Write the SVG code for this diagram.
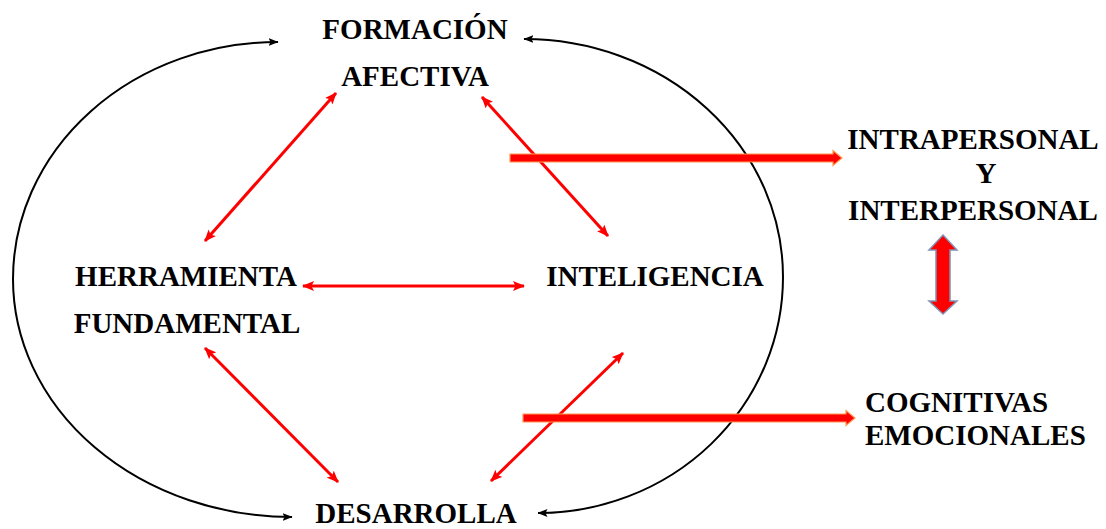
<svg xmlns="http://www.w3.org/2000/svg" width="1106" height="529" viewBox="0 0 1106 529">
<defs>
<style>
.t{font-family:"Liberation Serif","Times New Roman",serif;font-weight:bold;font-size:29px;fill:#000}
.c{text-anchor:middle}
.red{stroke:#ff0000;stroke-width:3;fill:none;marker-start:url(#rh);marker-end:url(#rh)}
.blk{stroke:#000;stroke-width:2;fill:none;marker-start:url(#bh);marker-end:url(#bh)}
.thick{fill:#ff0000;stroke:#ff9a50;stroke-width:1.2}
.block{fill:#ff0000;stroke:#7f93b5;stroke-width:1.5}
</style>
<marker id="rh" markerUnits="userSpaceOnUse" viewBox="0 0 12 10" refX="11" refY="5" markerWidth="12" markerHeight="10" orient="auto-start-reverse">
<path d="M0,0 L12,5 L0,10 L2.5,5 Z" fill="#ff0000"/>
</marker>
<marker id="bh" markerUnits="userSpaceOnUse" viewBox="0 0 10 8" refX="9.5" refY="4" markerWidth="10" markerHeight="8" orient="auto-start-reverse">
<path d="M0,0 L10,4 L0,8 L2,4 Z" fill="#000"/>
</marker>
</defs>
<rect width="1106" height="529" fill="#fff"/>
<g id="connectors">
<path class="blk" d="M 278 42 A 265 237 0 0 0 13 279 A 279 238 0 0 0 292 517"/>
<path class="blk" d="M 538 513 A 245 236 0 0 0 783 277 A 259 238 0 0 0 524 39"/>
<line class="red" x1="336" y1="93" x2="205" y2="241"/>
<line class="red" x1="482" y1="97" x2="608" y2="236"/>
<line class="red" x1="303" y1="286" x2="524" y2="286"/>
<line class="red" x1="205" y1="348" x2="338" y2="482"/>
<line class="red" x1="623" y1="353" x2="491" y2="481"/>
<path class="thick" d="M510,154 L833,154 L833,150.5 L842,158 L833,165.5 L833,162 L510,162 Z"/>
<path class="thick" d="M523,414 L846,414 L846,410.5 L855,418 L846,425.5 L846,422 L523,422 Z"/>
<path class="block" d="M943,235 L957,250 L950,250 L950,301 L957,301 L943,314 L929,301 L936,301 L936,250 L929,250 Z"/>
</g>
<g id="formacion">
<text class="t c" x="415" y="39">FORMACIÓN</text>
<text class="t c" x="415" y="86">AFECTIVA</text>
</g>
<g id="herramienta">
<text class="t c" x="186" y="286">HERRAMIENTA</text>
<text class="t c" x="187" y="333">FUNDAMENTAL</text>
</g>
<g id="inteligencia">
<text class="t c" x="655" y="286">INTELIGENCIA</text>
</g>
<g id="desarrolla">
<text class="t c" x="416" y="523">DESARROLLA</text>
</g>
<g id="intrapersonal">
<text class="t c" x="973" y="149">INTRAPERSONAL</text>
<text class="t c" x="986" y="183">Y</text>
<text class="t c" x="973" y="220">INTERPERSONAL</text>
</g>
<g id="cognitivas">
<text class="t" x="865" y="412">COGNITIVAS</text>
<text class="t" x="865" y="445">EMOCIONALES</text>
</g>
</svg>
